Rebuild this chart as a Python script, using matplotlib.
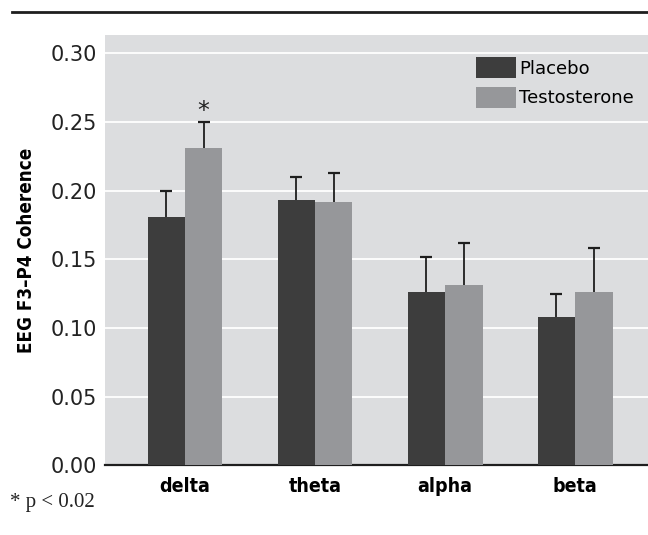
import matplotlib.pyplot as plt
from matplotlib.lines import Line2D
import numpy as np

bands = ['delta', 'theta', 'alpha', 'beta']
placebo = [0.181, 0.193, 0.126, 0.108]
placebo_err = [0.019, 0.017, 0.026, 0.017]
testosterone = [0.231, 0.192, 0.131, 0.126]
testosterone_err = [0.019, 0.021, 0.031, 0.032]
yticks = [0.00, 0.05, 0.10, 0.15, 0.20, 0.25, 0.30]

DARK = '#3d3d3d'
LIGHT = '#96979a'
BG = '#dcdddf'

fig = plt.figure(figsize=(6.48, 5.35), dpi=100)
ax = fig.add_axes([0.162, 0.130, 0.838, 0.805])
ax.set_facecolor(BG)

x = np.arange(len(bands))
w = 0.288
# error bars sit below the bars so only the upper half shows
ax.errorbar(x - w / 2, placebo, yerr=placebo_err, fmt='none',
            ecolor='#1e1e1e', elinewidth=1.3, capsize=4.5, capthick=1.6, zorder=1.5)
ax.errorbar(x + w / 2, testosterone, yerr=testosterone_err, fmt='none',
            ecolor='#1e1e1e', elinewidth=1.3, capsize=4.5, capthick=1.6, zorder=1.5)
ax.bar(x - w / 2, placebo, w, color=DARK, label='Placebo', zorder=2)
ax.bar(x + w / 2, testosterone, w, color=LIGHT, label='Testosterone', zorder=2)

# significance star
ax.text(x[0] + w / 2, testosterone[0] + testosterone_err[0] - 0.001, '*',
        ha='center', va='bottom', fontsize=17, color='#222222')

ax.set_xlim(-0.615, 3.56)
ax.set_ylim(0, 0.3135)
ax.set_yticks(yticks)
ax.set_yticklabels(['%.2f' % t for t in yticks], fontsize=15, color='#222222')
ax.set_xticks(x)
ax.set_xticklabels(bands, fontsize=14, fontweight='bold', fontstretch='condensed')
ax.tick_params(length=0, pad=6)
ax.tick_params(axis='x', pad=8)

for t in yticks[1:]:
    ax.axhline(t, color='white', linewidth=1.3, zorder=1)

for s in ['left', 'right', 'top']:
    ax.spines[s].set_visible(False)
ax.spines['bottom'].set_linewidth(1.6)
ax.spines['bottom'].set_color('#1e1e1e')
ax.spines['bottom'].set_zorder(1)

ax.set_ylabel('EEG F3\u2013P4 Coherence', fontsize=13.5, fontweight='bold',
              fontstretch='condensed', labelpad=10)

ax.legend(loc='upper left', bbox_to_anchor=(0.683, 0.948), frameon=False,
          fontsize=13, handlelength=2.25, handleheight=1.4, handletextpad=0.15,
          labelspacing=0.5, borderpad=0, borderaxespad=0)

fig.add_artist(Line2D([12 / 648, 1.0], [1 - 12 / 535, 1 - 12 / 535],
                      color='#1e1e1e', linewidth=2))
fig.text(10 / 648, 1 - 503 / 535, '* p < 0.02', family=['Liberation Serif', 'DejaVu Serif'],
         fontsize=15, va='center', ha='left', color='#222222')

fig.savefig('out.png', dpi=100)
